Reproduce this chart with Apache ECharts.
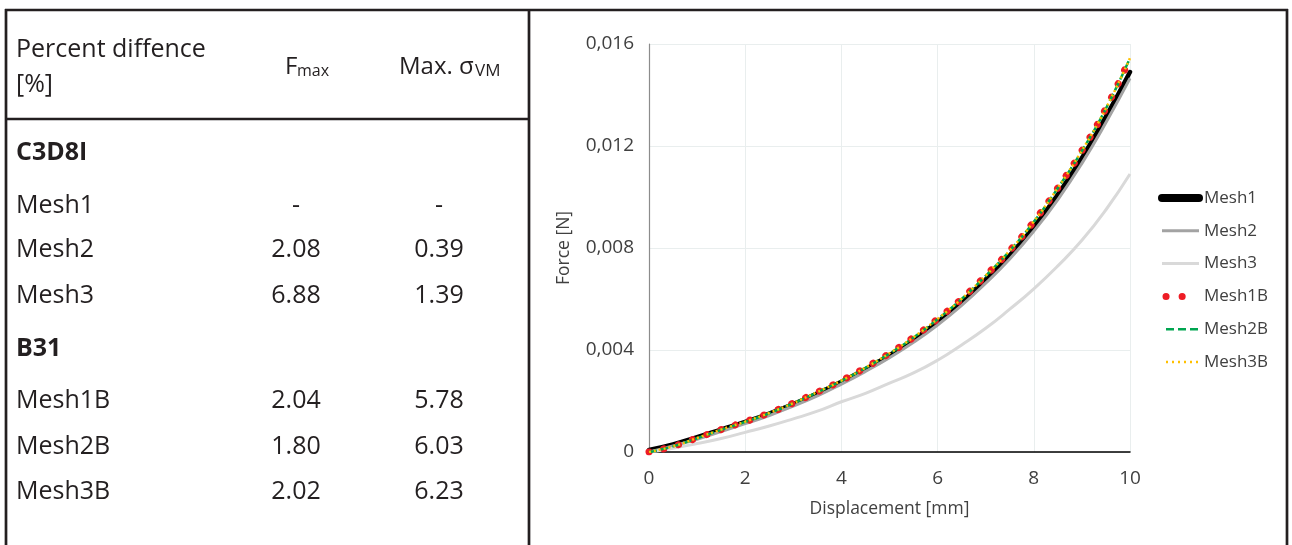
<!DOCTYPE html>
<html><head><meta charset="utf-8">
<script src="https://cdn.jsdelivr.net/npm/echarts@6/dist/echarts.min.js"></script>
<style>html,body{margin:0;padding:0;background:#fff}#c{width:1292px;height:545px}</style>
</head><body><div id="c"></div>
<script>
// ---------- chart data ----------
const displacement = [0, 0.5, 1, 1.5, 2, 2.5, 3, 3.5, 4, 4.5, 5, 5.5, 6, 6.5, 7, 7.5, 8, 8.5, 9, 9.5, 10];
const mesh1  = [0.00008, 0.00030, 0.00058, 0.00088, 0.00118, 0.00151, 0.00188, 0.00230, 0.00275, 0.00325, 0.00380, 0.00440, 0.00510, 0.00588, 0.00677, 0.00772, 0.00882, 0.01010, 0.01153, 0.01315, 0.01490];
const mesh2  = [0.00000, 0.00024, 0.00050, 0.00080, 0.00111, 0.00143, 0.00180, 0.00220, 0.00266, 0.00316, 0.00370, 0.00430, 0.00498, 0.00575, 0.00662, 0.00757, 0.00866, 0.00990, 0.01132, 0.01292, 0.01465];
const mesh3  = [0.00000, 0.00015, 0.00033, 0.00053, 0.00077, 0.00102, 0.00130, 0.00160, 0.00197, 0.00230, 0.00270, 0.00310, 0.00360, 0.00420, 0.00485, 0.00560, 0.00640, 0.00730, 0.00830, 0.00950, 0.01090];
const mesh1B = [0.00000, 0.00022, 0.00055, 0.00088, 0.00119, 0.00153, 0.00192, 0.00235, 0.00280, 0.00331, 0.00387, 0.00450, 0.00522, 0.00601, 0.00692, 0.00790, 0.00904, 0.01036, 0.01182, 0.01348, 0.01545];
const mesh2B = [0.00000, 0.00022, 0.00054, 0.00087, 0.00118, 0.00152, 0.00191, 0.00234, 0.00279, 0.00330, 0.00386, 0.00449, 0.00521, 0.00600, 0.00691, 0.00789, 0.00903, 0.01035, 0.01181, 0.01347, 0.01545];
const mesh3B = [0.00000, 0.00022, 0.00055, 0.00088, 0.00119, 0.00153, 0.00192, 0.00235, 0.00280, 0.00331, 0.00387, 0.00450, 0.00522, 0.00601, 0.00692, 0.00790, 0.00904, 0.01036, 0.01182, 0.01348, 0.01545];
const seriesNames = ['Mesh1', 'Mesh2', 'Mesh3', 'Mesh1B', 'Mesh2B', 'Mesh3B'];

// ---------- table data ----------
const headerTitle = ['Percent diffence', '[%]'];
const groupC3D8I = 'C3D8I';
const groupB31 = 'B31';
const rowsC3D8I = ['Mesh1', 'Mesh2', 'Mesh3'];
const fmaxC3D8I = ['-', '2.08', '6.88'];
const sigmaC3D8I = ['-', '0.39', '1.39'];
const rowsB31 = ['Mesh1B', 'Mesh2B', 'Mesh3B'];
const fmaxB31 = ['2.04', '1.80', '2.02'];
const sigmaB31 = ['5.78', '6.03', '6.23'];

const TFONT = '"Open Sans", sans-serif';
const TCOL = '#231f20';
const TSIZE = 25;

function pts(arr) { return displacement.map((x, i) => [x, arr[i]]); }

const graphics = [];
function line(x1, y1, x2, y2) {
  graphics.push({ type: 'line', shape: { x1, y1, x2, y2 }, style: { stroke: TCOL, lineWidth: 2.7 }, z: 10 });
}
function txt(t, x, y, opts) {
  opts = opts || {};
  graphics.push({ type: 'text', x, y, style: {
    text: t, font: (opts.bold ? 'bold ' : '') + (opts.size || TSIZE) + 'px ' + TFONT,
    fill: TCOL, textAlign: opts.align || 'left', textVerticalAlign: 'middle'
  }, z: 10 });
}
// borders
line(5, 10, 1288, 10);
line(6, 9, 6, 545);
line(529, 9, 529, 545);
line(1287, 9, 1287, 545);
line(6, 119, 529, 119);
// header
txt(headerTitle[0], 16, 50);
txt(headerTitle[1], 16, 85);
txt('F', 285, 67, { size: 24 });
txt('max', 297, 71, { size: 16 });
txt('Max.', 399, 67, { size: 24 });
txt('σ', 459, 67, { size: 24 });
txt('VM', 475, 71.5, { size: 17 });
// groups / rows
const colX1 = 296, colX2 = 439;
txt(groupC3D8I, 16, 153, { bold: true });
const yC = [206, 250, 296];
rowsC3D8I.forEach((r, i) => {
  txt(r, 16, yC[i]);
  txt(fmaxC3D8I[i], colX1, yC[i], { align: 'center' });
  txt(sigmaC3D8I[i], colX2, yC[i], { align: 'center' });
});
txt(groupB31, 16, 349, { bold: true });
const yB = [401, 447, 492];
rowsB31.forEach((r, i) => {
  txt(r, 16, yB[i]);
  txt(fmaxB31[i], colX1, yB[i], { align: 'center' });
  txt(sigmaB31[i], colX2, yB[i], { align: 'center' });
});

const CFONT = '"Open Sans", sans-serif';
const S = {
  mesh1:  { color: '#000000', width: 4.5, cap: 'round' },
  mesh2:  { color: '#a3a3a3', width: 3 },
  mesh3:  { color: '#d9d9d9', width: 3 },
  mesh1B: { color: '#ee1c25', width: 7, type: [0.1, 15], cap: 'round' },
  mesh2B: { color: '#00a550', width: 2.5, type: [8, 4] },
  mesh3B: { color: '#ffc000', width: 2.5, type: [2, 3] }
};
const hidden = { opacity: 0, color: 'rgba(0,0,0,0)', borderWidth: 0 };
const chart = echarts.init(document.getElementById('c'), null, { renderer: 'canvas' });
chart.setOption({
  animation: false,
  backgroundColor: '#fff',
  textStyle: { fontFamily: CFONT },
  grid: { left: 649, top: 44, width: 481, height: 408, containLabel: false },
  xAxis: {
    type: 'value', min: 0, max: 10, interval: 2,
    name: 'Displacement [mm]', nameLocation: 'middle', nameGap: 48,
    nameTextStyle: { fontSize: 17.5, color: '#404040', fontFamily: CFONT },
    axisLine: { show: true, lineStyle: { color: '#000', width: 1.5 } },
    axisTick: { show: false },
    axisLabel: { fontSize: 19, color: '#404040', margin: 17, fontFamily: CFONT },
    splitLine: { show: true, lineStyle: { color: '#e9eeee', width: 1 } }
  },
  yAxis: {
    type: 'value', min: 0, max: 0.016, interval: 0.004,
    name: 'Force [N]', nameLocation: 'middle', nameGap: 76, nameRotate: 90,
    nameTextStyle: { fontSize: 17.5, color: '#404040', fontFamily: CFONT },
    axisLine: { show: true, lineStyle: { color: '#8c8c8c', width: 1.2 } },
    axisTick: { show: false },
    axisLabel: { fontSize: 19, color: '#404040', margin: 15, fontFamily: CFONT,
      formatter: v => v === 0 ? '0' : v.toFixed(3).replace('.', ',') },
    splitLine: { show: true, lineStyle: { color: '#e9eeee', width: 1 } }
  },
  legend: {
    orient: 'vertical', left: 1158, top: 188, padding: 0,
    itemWidth: 37, itemHeight: 10, itemGap: 12.8,
    itemStyle: hidden,
    textStyle: { fontSize: 17, color: '#404040', fontFamily: CFONT, lineHeight: 20 },
    data: [
      { name: 'Mesh1', lineStyle: { color: '#000', width: 8, cap: 'round' }, itemStyle: hidden },
      { name: 'Mesh2', lineStyle: S.mesh2, itemStyle: hidden },
      { name: 'Mesh3', lineStyle: S.mesh3, itemStyle: hidden },
      { name: 'Mesh1B', lineStyle: { color: '#ee1c25', width: 7, type: [0.1, 16, 0.1, 40], dashOffset: -4, cap: 'round' }, itemStyle: hidden },
      { name: 'Mesh2B', lineStyle: { color: '#00a550', width: 2.5, type: [8, 4] }, itemStyle: hidden },
      { name: 'Mesh3B', lineStyle: { color: '#ffc000', width: 2.5, type: [2, 4] }, itemStyle: hidden }
    ]
  },
  graphic: graphics,
  series: [
    { name: seriesNames[0], type: 'line', smooth: true, symbol: 'none', data: pts(mesh1),
      lineStyle: S.mesh1, itemStyle: { color: '#000' }, z: 2 },
    { name: seriesNames[1], type: 'line', smooth: true, symbol: 'none', data: pts(mesh2),
      lineStyle: S.mesh2, itemStyle: { color: '#a3a3a3' }, z: 3 },
    { name: seriesNames[2], type: 'line', smooth: true, symbol: 'none', data: pts(mesh3),
      lineStyle: S.mesh3, itemStyle: { color: '#d9d9d9' }, z: 3 },
    { name: seriesNames[3], type: 'line', smooth: true, symbol: 'none', data: pts(mesh1B),
      lineStyle: S.mesh1B, itemStyle: { color: '#ee1c25' }, z: 4 },
    { name: seriesNames[4], type: 'line', smooth: true, symbol: 'none', data: pts(mesh2B),
      lineStyle: S.mesh2B, itemStyle: { color: '#00a550' }, z: 5 },
    { name: seriesNames[5], type: 'line', smooth: true, symbol: 'none', data: pts(mesh3B),
      lineStyle: S.mesh3B, itemStyle: { color: '#ffc000' }, z: 6 }
  ]
});
</script></body></html>
